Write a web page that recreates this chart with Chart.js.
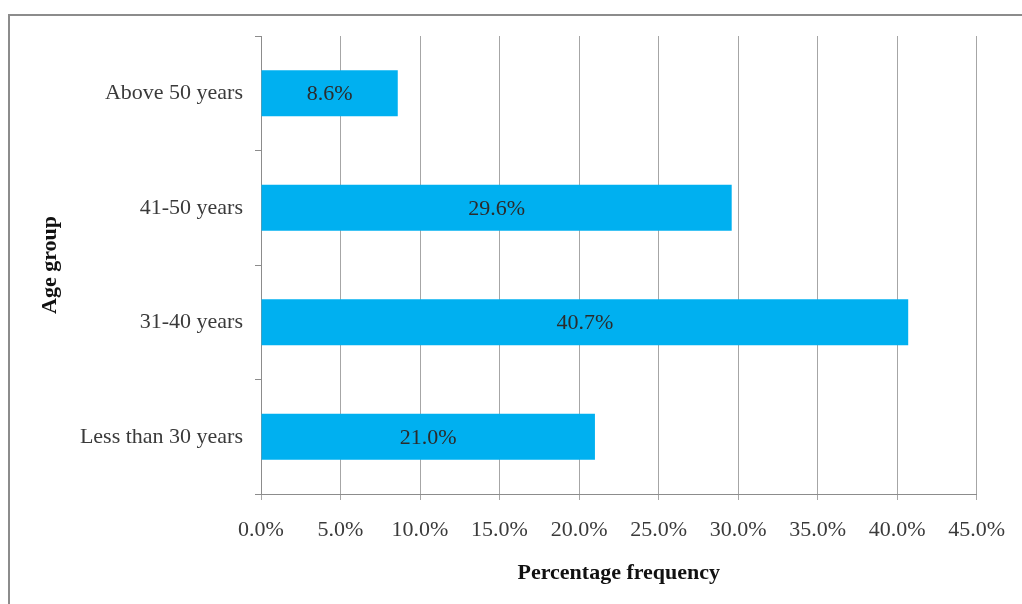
<!DOCTYPE html>
<html>
<head>
<meta charset="utf-8">
<title>Age group</title>
<script src="https://cdn.jsdelivr.net/npm/chart.js@4/dist/chart.umd.min.js"></script>
<style>
    body { margin: 0; background: #fff; }
    #wrap { position: relative; width: 1022px; height: 604px; }
    #frame {
        position: absolute; left: 8px; top: 14px; right: 0; bottom: 0;
        border-left: 2px solid #8c8c8c; border-top: 2px solid #8c8c8c;
        pointer-events: none;
    }
    canvas { position: absolute; left: 0; top: 0; }
</style>
</head>
<body>
<div id="wrap">
    <canvas id="myChart" width="1022" height="604"></canvas>
    <div id="frame"></div>
</div>
<script>
const ageGroups = ["Above 50 years", "41-50 years", "31-40 years", "Less than 30 years"];
const percentages = [8.6, 29.6, 40.7, 21.0];
const xTicks = [0, 5, 10, 15, 20, 25, 30, 35, 40, 45];

const serif = "'Liberation Serif', 'Times New Roman', serif";

// draws the value in the middle of each bar
const barLabels = {
    id: 'barLabels',
    afterDatasetsDraw(chart) {
        const ctx = chart.ctx;
        const meta = chart.getDatasetMeta(0);
        ctx.save();
        ctx.font = "22px " + serif;
        ctx.fillStyle = '#2b2b2b';
        ctx.textAlign = 'center';
        ctx.textBaseline = 'middle';
        meta.data.forEach((bar, i) => {
            const val = chart.data.datasets[0].data[i];
            ctx.fillText(val.toFixed(1) + '%', (bar.x + bar.base) / 2, bar.y + 1);
        });
        ctx.restore();
    }
};

const ctx = document.getElementById('myChart').getContext('2d');
const myChart = new Chart(ctx, {
    type: 'bar',
    data: {
        labels: ageGroups,
        datasets: [{
            data: percentages,
            backgroundColor: '#00b0f0',
            borderWidth: 0,
            barPercentage: 0.4,
            categoryPercentage: 1.0
        }]
    },
    options: {
        indexAxis: 'y',
        responsive: false,
        animation: false,
        layout: { padding: { top: 36, right: 44, bottom: 0, left: 0 } },
        plugins: {
            legend: { display: false },
            tooltip: { enabled: false }
        },
        scales: {
            x: {
                min: 0,
                max: 45,
                afterBuildTicks: axis => {
                    axis.ticks = xTicks.map(v => ({ value: v }));
                },
                afterFit: axis => { axis.height = 110; },
                grid: {
                    color: '#a6a6a6',
                    tickLength: 6,
                    drawTicks: true
                },
                border: { color: '#8c8c8c' },
                ticks: {
                    padding: 17,
                    color: '#3a3a3a',
                    font: { family: serif, size: 22 },
                    maxRotation: 0,
                    callback: v => Number(v).toFixed(1) + '%'
                },
                title: {
                    display: true,
                    text: 'Percentage frequency',
                    color: '#111',
                    font: { family: serif, size: 22, weight: 'bold' },
                    padding: { top: 0, bottom: 17 }
                }
            },
            y: {
                afterFit: axis => { axis.width = 261; },
                grid: {
                    offset: true,
                    drawOnChartArea: false,
                    drawTicks: true,
                    tickLength: 6,
                    color: '#8c8c8c'
                },
                border: { color: '#8c8c8c' },
                ticks: {
                    padding: 12,
                    color: '#3a3a3a',
                    font: { family: serif, size: 22 }
                },
                title: {
                    display: true,
                    text: 'Age group',
                    color: '#111',
                    font: { family: serif, size: 22, weight: 'bold' },
                    padding: { top: 37, bottom: 0 }
                }
            }
        }
    },
    plugins: [barLabels]
});
</script>
</body>
</html>
